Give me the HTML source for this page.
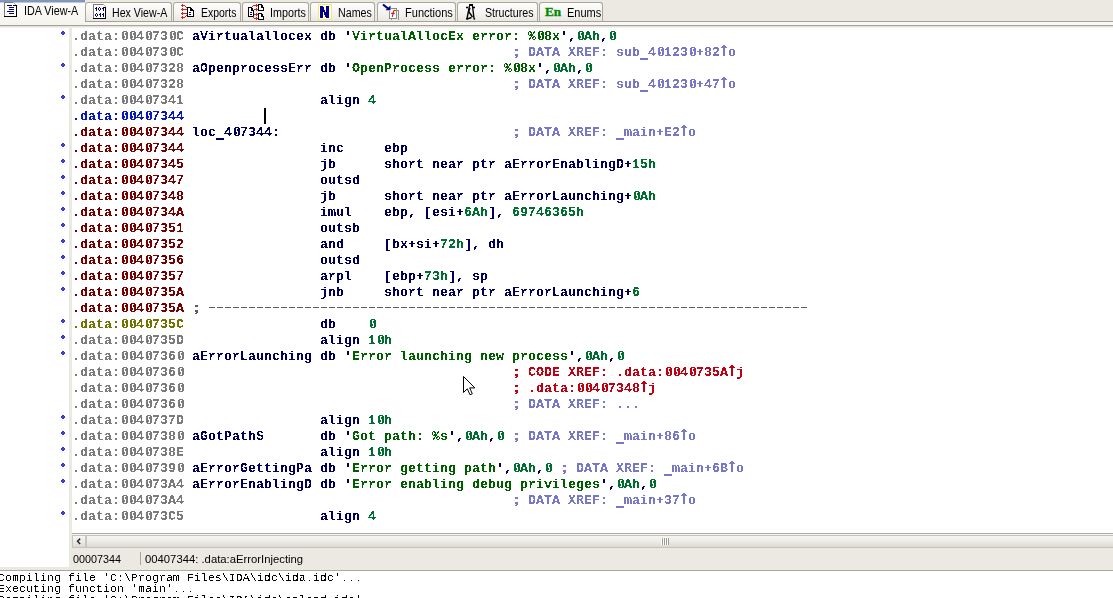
<!DOCTYPE html>
<html><head><meta charset="utf-8">
<style>
html,body{margin:0;padding:0}
body{width:1113px;height:598px;overflow:hidden;background:#ece9e2;position:relative;font-family:"Liberation Sans",sans-serif}
.a{position:absolute}
/* tabs */
.tab{position:absolute;top:2px;height:19px;box-sizing:border-box;border:1px solid #aaa79f;border-bottom:none;border-radius:3px 3px 0 0;background:linear-gradient(#fdfdfc 0%,#f4f3ef 60%,#e9e7e0 100%)}
.tt{position:absolute;transform-origin:0 0;top:6px;font-size:12px;line-height:14px;color:#000;white-space:nowrap}
.act{position:absolute;left:0;top:0;width:85px;height:25px;background:linear-gradient(#fefefe 0%,#faf9f6 50%,#f4f3ee 100%)}
/* code */
#code{position:absolute;left:0;top:0;width:1113px;height:598px}
.ln{position:absolute;left:72px;height:16px;line-height:16px;font-family:"Liberation Mono",monospace;font-weight:bold;font-size:13.333px;white-space:pre;color:#00005a}
.bul{position:absolute;left:61px;width:4px;height:4px;background:radial-gradient(circle at 50% 50%,#4646ee 0,#4040e8 1px,#2a2acc 2px);clip-path:polygon(1px 0,3px 0,3px 1px,4px 1px,4px 3px,3px 3px,3px 4px,1px 4px,1px 3px,0 3px,0 1px,1px 1px)}
.ag{color:#7b7b7b}
.ar{color:#740000}
.ab{color:#0818c0}
.ao{color:#727200}
.n{color:#00005a}
.s{color:#005e00}
.k{color:#006e30}
.c{color:#7878c8}
.x{color:#c00010}
.sep{color:#5a5a5a}
.up{display:inline-block;vertical-align:top}
.out{position:absolute;left:-2px;font-family:"Liberation Mono",monospace;font-size:11.667px;line-height:11px;white-space:pre;color:#000}
.fx{position:absolute;left:0;top:0;width:1113px;height:598px;filter:url(#crisp)}
.fg{position:absolute;left:0;top:0;width:1113px;height:598px;filter:url(#gray)}
</style></head><body>
<svg width="0" height="0" style="position:absolute"><filter id="crisp" x="0" y="0" width="100%" height="100%" color-interpolation-filters="sRGB"><feComponentTransfer><feFuncA type="discrete" tableValues="0 1"/></feComponentTransfer></filter><filter id="gray" x="0" y="0" width="100%" height="100%"><feComponentTransfer><feFuncA type="identity"/></feComponentTransfer></filter></svg>
<!-- tab bar -->
<div class="a" style="left:0;top:21px;width:1113px;height:1px;background:#a5a29a"></div>
<div class="a" style="left:0;top:22px;width:1113px;height:3px;background:#f8f7f3"></div>
<div class="a" style="left:0;top:25px;width:1113px;height:1px;background:#a5a29a"></div>

<div class="act"></div>
<div class="a" style="left:0;top:0;width:85px;height:2px;background:#8497b8"></div>
<div class="a" style="left:0;top:2px;width:85px;height:1px;background:#bccae0"></div>
<div class="fg">
<div class="tt" style="left:24px;top:4px;transform:scaleX(0.898)">IDA View-A</div>
</div>

<div class="tab" style="left:85px;width:87px"></div>
<div class="tab" style="left:173px;width:68px"></div>
<div class="tab" style="left:242px;width:67px"></div>
<div class="tab" style="left:310px;width:65px"></div>
<div class="tab" style="left:377px;width:79px"></div>
<div class="tab" style="left:457px;width:81px"></div>
<div class="tab" style="left:539px;width:64px"></div>
<div class="fg">
<div class="tt" style="left:112px;top:6px;transform:scaleX(0.885)">Hex View-A</div>
<div class="tt" style="left:201px;top:6px;transform:scaleX(0.872)">Exports</div>
<div class="tt" style="left:269.5px;top:6px;transform:scaleX(0.895)">Imports</div>
<div class="tt" style="left:338px;top:6px;transform:scaleX(0.889)">Names</div>
<div class="tt" style="left:404.5px;top:6px;transform:scaleX(0.920)">Functions</div>
<div class="tt" style="left:485px;top:6px;transform:scaleX(0.887)">Structures</div>
<div class="tt" style="left:566.5px;top:6px;transform:scaleX(0.917)">Enums</div>
</div>

<svg class="a" style="left:0;top:0" width="620" height="24" viewBox="0 0 620 24">
<g shape-rendering="crispEdges">
<!-- icon1 IDA view -->
<rect x="5" y="3" width="11" height="13" fill="#fff"/>
<rect x="4" y="2" width="1" height="15" fill="#7c7c7c"/>
<rect x="4" y="2" width="9" height="1" fill="#7c7c7c"/>
<rect x="13" y="2" width="1" height="1" fill="#b0b0b0"/><rect x="14" y="3" width="1" height="1" fill="#b0b0b0"/><rect x="15" y="4" width="1" height="1" fill="#b0b0b0"/>
<rect x="13" y="5" width="4" height="1" fill="#000"/>
<rect x="16" y="5" width="1" height="12" fill="#000"/>
<rect x="4" y="16" width="13" height="1" fill="#000"/>
<g fill="#000078">
<rect x="7" y="5" width="5" height="1"/><rect x="9" y="7" width="5" height="1"/><rect x="9" y="9" width="5" height="1"/><rect x="7" y="11" width="7" height="1"/><rect x="9" y="13" width="5" height="1"/>
</g>
<!-- icon2 hex -->
<rect x="94" y="5" width="11" height="13" fill="#fff"/>
<rect x="93" y="4" width="1" height="15" fill="#7c7c7c"/>
<rect x="93" y="4" width="10" height="1" fill="#7c7c7c"/>
<rect x="103" y="4" width="1" height="1" fill="#b0b0b0"/><rect x="104" y="5" width="1" height="1" fill="#b0b0b0"/><rect x="105" y="6" width="1" height="1" fill="#b0b0b0"/>
<rect x="104" y="7" width="2" height="1" fill="#000"/>
<rect x="105" y="7" width="1" height="12" fill="#000"/>
<rect x="93" y="18" width="13" height="1" fill="#000"/>
<g fill="#00006e">
<rect x="96" y="7" width="1" height="4"/><rect x="95" y="8" width="1" height="1"/>
<rect x="99" y="7" width="1" height="1"/><rect x="98" y="8" width="1" height="2"/><rect x="100" y="8" width="1" height="2"/><rect x="99" y="10" width="1" height="1"/>
<rect x="103" y="7" width="1" height="4"/><rect x="102" y="8" width="1" height="1"/>
<rect x="96" y="13" width="1" height="1"/><rect x="95" y="14" width="1" height="2"/><rect x="97" y="14" width="1" height="2"/><rect x="96" y="16" width="1" height="1"/>
<rect x="100" y="13" width="1" height="4"/><rect x="99" y="14" width="1" height="1"/>
<rect x="103" y="13" width="1" height="4"/><rect x="102" y="14" width="1" height="1"/>
</g>
<!-- icon3 exports -->
<path d="M187 7h3v1h-3zM187 7h1v10h-1zM187 16h7v1h-7zM193 10h1v7h-1zM190 7h1v3h-1zM191 9h1v1h-1zM190 10h3v1h-3zM191 8h1v1h-1zM192 9h1v1h-1z" fill="#000"/>
<rect x="188" y="8" width="2" height="8" fill="#fff"/><rect x="190" y="11" width="3" height="5" fill="#fff"/>
<rect x="189" y="12" width="2" height="1" fill="#00006e"/><rect x="189" y="14" width="2" height="1" fill="#00006e"/>
<g fill="#c42a2a">
<rect x="181" y="5" width="4" height="1"/><rect x="182" y="4" width="1" height="3"/>
<rect x="181" y="9" width="6" height="1"/><rect x="182" y="8" width="1" height="3"/>
<rect x="181" y="13" width="6" height="1"/><rect x="182" y="12" width="1" height="3"/>
<rect x="181" y="17" width="4" height="1"/><rect x="182" y="16" width="1" height="3"/>
<rect x="185" y="6" width="1" height="1"/><rect x="186" y="7" width="1" height="1"/>
<rect x="185" y="16" width="1" height="1"/><rect x="186" y="15" width="1" height="1"/>
</g>
<!-- icon4 imports -->
<path d="M248 7h3v1h-3zM248 7h1v10h-1zM248 16h6v1h-6zM253 10h1v7h-1zM251 7h1v3h-1zM252 9h1v1h-1zM251 10h2v1h-2zM252 8h1v1h-1z" fill="#000"/>
<rect x="249" y="8" width="2" height="8" fill="#fff"/><rect x="251" y="11" width="2" height="5" fill="#fff"/>
<rect x="250" y="12" width="2" height="1" fill="#00006e"/><rect x="250" y="14" width="2" height="1" fill="#00006e"/>
<path d="M258 4h3v1h-3zM258 4h1v7h-1zM258 10h6v1h-6zM263 7h1v4h-1zM261 4h1v3h-1zM262 6h1v1h-1zM261 7h2v1h-2zM262 5h1v1h-1z" fill="#000"/>
<rect x="259" y="5" width="2" height="5" fill="#fff"/><rect x="261" y="8" width="2" height="2" fill="#fff"/>
<path d="M258 13h3v1h-3zM258 13h1v7h-1zM258 19h6v1h-6zM263 16h1v4h-1zM261 13h1v3h-1zM262 15h1v1h-1zM261 16h2v1h-2zM262 14h1v1h-1z" fill="#000"/>
<rect x="259" y="14" width="2" height="5" fill="#fff"/><rect x="261" y="17" width="2" height="2" fill="#fff"/>
<g fill="#c42a2a">
<rect x="253" y="5" width="5" height="1"/><rect x="256" y="4" width="1" height="3"/>
<rect x="254" y="9" width="4" height="1"/><rect x="256" y="8" width="1" height="3"/>
<rect x="254" y="14" width="4" height="1"/><rect x="256" y="13" width="1" height="3"/>
<rect x="254" y="18" width="4" height="1"/><rect x="256" y="17" width="1" height="3"/>
<rect x="252" y="6" width="1" height="1"/><rect x="253" y="16" width="1" height="1"/><rect x="253" y="17" width="1" height="1"/>
</g>
<!-- icon5 names -->
<rect x="318" y="4" width="14" height="16" fill="#f4ec70"/>
<rect x="319" y="5" width="12" height="14" fill="#fdfde8"/>
<path d="M320 6h3l3 7v-7h3v12h-3l-3-7v7h-3z" fill="#00008c"/>
<!-- icon6 functions -->
<g fill="#8c8c8c">
<rect x="391" y="8" width="6" height="1"/><rect x="396" y="8" width="1" height="11"/>
<rect x="397" y="10" width="2" height="1"/><rect x="398" y="10" width="1" height="10"/>
<rect x="389" y="11" width="1" height="8"/><rect x="389" y="18" width="8" height="1"/><rect x="391" y="19" width="1" height="1"/>
</g>
<rect x="390" y="11" width="6" height="7" fill="#fff"/><rect x="391" y="9" width="5" height="2" fill="#fff"/>
</g>
<path d="M395.6 10.9C395.1 9.9 394 10 393.7 11.2L392.3 16.9M391.2 13.4H394.6" stroke="#d01818" stroke-width="1.1" fill="none"/>
<path d="M383 4.5l5 4" stroke="#00008c" stroke-width="2.2" fill="none"/>
<path d="M390.5 5.5v4.8h-5z" fill="#00008c"/>
<!-- icon7 structures -->
<g stroke="#000" stroke-width="1.35" fill="none">
<rect x="469" y="4" width="4" height="2" fill="#000" stroke="none"/>
<path d="M466 7.5h2M472.5 7.5h2.5"/>
<path d="M469.5 6l-2.5 12.5M472.5 6l1.5 12.5"/>
<path d="M470 8l-1.5 4.5M469 12l3.5 5M467 19c1.5-0.5 3-1 4.5-1.5"/>
</g>
<circle cx="466.8" cy="18.8" r="0.9" fill="#000"/><circle cx="474.3" cy="18.8" r="0.9" fill="#000"/>
<!-- icon8 En -->
<text x="545" y="16" font-family="Liberation Serif" font-weight="bold" font-size="13.2" fill="#008a00" stroke="#008a00" stroke-width="0.35">En</text>
</svg>

<!-- panels -->
<div class="a" style="left:0;top:28px;width:69px;height:539px;background:#fff"></div>
<div class="a" style="left:72px;top:28px;width:1041px;height:505px;background:#fff"></div>
<div class="a" style="left:0;top:26px;width:1113px;height:1px;background:#e4e2dc"></div>
<div class="a" style="left:0;top:27px;width:1113px;height:1px;background:#f2f1ed"></div>
<div class="a" style="left:72px;top:533px;width:1041px;height:1px;background:#aeaba3"></div>
<div class="a" style="left:72px;top:534px;width:1041px;height:1px;background:#f6f5f1"></div>
<!-- scrollbar -->
<div class="a" style="left:72px;top:535px;width:1041px;height:13px;box-sizing:border-box;border:1px solid #c5c2ba;border-right:none;background:linear-gradient(#f7f6f3,#edebe6 50%,#dcdad2)"></div>
<div class="a" style="left:85px;top:536px;width:2px;height:11px;background:#c9c6be"></div>
<svg class="a" style="left:72px;top:535px" width="14" height="13" viewBox="0 0 14 13"><path d="M7.6 4.2L5.6 6.3L7.6 8.4" stroke="#2e2e2e" stroke-width="1.6" fill="none" stroke-linecap="square"/></svg>
<svg class="a" style="left:660px;top:537px" width="12" height="9" viewBox="0 0 12 9" shape-rendering="crispEdges">
<rect x="1" y="1" width="1" height="7" fill="#fff"/><rect x="2" y="1" width="1" height="7" fill="#9c9a94"/>
<rect x="3" y="1" width="1" height="7" fill="#fff"/><rect x="4" y="1" width="1" height="7" fill="#9c9a94"/>
<rect x="5" y="1" width="1" height="7" fill="#fff"/><rect x="6" y="1" width="1" height="7" fill="#9c9a94"/>
<rect x="7" y="1" width="1" height="7" fill="#fff"/><rect x="8" y="1" width="1" height="7" fill="#9c9a94"/>
</svg>
<!-- status -->
<div class="fg">
<div class="tt" style="left:73px;top:553px;font-size:11px;line-height:13px;transform:scaleX(0.98)">00007344</div>
</div>
<div class="a" style="left:140px;top:552px;width:1px;height:13px;background:#aca899"></div>
<div class="fg">
<div class="tt" style="left:145px;top:553px;font-size:11px;line-height:13px;transform:scaleX(1.026)">00407344: .data:aErrorInjecting</div>
</div>
<!-- output -->
<div class="a" style="left:0;top:570px;width:1113px;height:1px;background:#aca9a1"></div>
<div class="a" style="left:0;top:571px;width:1113px;height:27px;background:#fff"></div>
<div class="fx">
<div class="out" style="top:573px">Compiling file 'C:\Program Files\IDA\idc\ida.idc'...</div>
<div class="out" style="top:584px">Executing function 'main'...</div>
<div class="out" style="top:595px">Compiling file 'C:\Program Files\IDA\idc\onload.idc'...</div>
</div>

<div id="code" class="fx">
<div class="a" style="left:209px;top:307px;width:598px;height:1px;background:repeating-linear-gradient(to right,#5c5c5c 0,#5c5c5c 6px,transparent 6px,transparent 8px)"></div>
<div class="ln" style="top:29px"><span class="ag">.data:<svg class="up" width="8" height="16" viewBox="0 0 8 16"><path d="M3 2h4v1h-4zM2 3h2v7h-2zM6 3h2v7h-2zM3 10h4v1h-4zM5 4h1v2h-1zM4 7h1v2h-1z" fill="currentColor"/></svg><svg class="up" width="8" height="16" viewBox="0 0 8 16"><path d="M3 2h4v1h-4zM2 3h2v7h-2zM6 3h2v7h-2zM3 10h4v1h-4zM5 4h1v2h-1zM4 7h1v2h-1z" fill="currentColor"/></svg>4<svg class="up" width="8" height="16" viewBox="0 0 8 16"><path d="M3 2h4v1h-4zM2 3h2v7h-2zM6 3h2v7h-2zM3 10h4v1h-4zM5 4h1v2h-1zM4 7h1v2h-1z" fill="currentColor"/></svg>73<svg class="up" width="8" height="16" viewBox="0 0 8 16"><path d="M3 2h4v1h-4zM2 3h2v7h-2zM6 3h2v7h-2zM3 10h4v1h-4zM5 4h1v2h-1zM4 7h1v2h-1z" fill="currentColor"/></svg>C</span><span class="n"> aVirtualallocex db </span><span class="n">&#x27;</span><span class="s">VirtualAllocEx error: %<svg class="up" width="8" height="16" viewBox="0 0 8 16"><path d="M3 2h4v1h-4zM2 3h2v7h-2zM6 3h2v7h-2zM3 10h4v1h-4zM5 4h1v2h-1zM4 7h1v2h-1z" fill="currentColor"/></svg>8x</span><span class="n">&#x27;,</span><span class="k"><svg class="up" width="8" height="16" viewBox="0 0 8 16"><path d="M3 2h4v1h-4zM2 3h2v7h-2zM6 3h2v7h-2zM3 10h4v1h-4zM5 4h1v2h-1zM4 7h1v2h-1z" fill="currentColor"/></svg>Ah</span><span class="n">,</span><span class="k"><svg class="up" width="8" height="16" viewBox="0 0 8 16"><path d="M3 2h4v1h-4zM2 3h2v7h-2zM6 3h2v7h-2zM3 10h4v1h-4zM5 4h1v2h-1zM4 7h1v2h-1z" fill="currentColor"/></svg></span></div><div class="bul" style="top:31px"></div>
<div class="ln" style="top:45px"><span class="ag">.data:<svg class="up" width="8" height="16" viewBox="0 0 8 16"><path d="M3 2h4v1h-4zM2 3h2v7h-2zM6 3h2v7h-2zM3 10h4v1h-4zM5 4h1v2h-1zM4 7h1v2h-1z" fill="currentColor"/></svg><svg class="up" width="8" height="16" viewBox="0 0 8 16"><path d="M3 2h4v1h-4zM2 3h2v7h-2zM6 3h2v7h-2zM3 10h4v1h-4zM5 4h1v2h-1zM4 7h1v2h-1z" fill="currentColor"/></svg>4<svg class="up" width="8" height="16" viewBox="0 0 8 16"><path d="M3 2h4v1h-4zM2 3h2v7h-2zM6 3h2v7h-2zM3 10h4v1h-4zM5 4h1v2h-1zM4 7h1v2h-1z" fill="currentColor"/></svg>73<svg class="up" width="8" height="16" viewBox="0 0 8 16"><path d="M3 2h4v1h-4zM2 3h2v7h-2zM6 3h2v7h-2zM3 10h4v1h-4zM5 4h1v2h-1zM4 7h1v2h-1z" fill="currentColor"/></svg>C</span><span class="n">                                         </span><span class="c"><svg class="up" width="8" height="16" viewBox="0 0 8 16"><path d="M3 4h3v2h-3zM3 9h3v2h-3zM4 11h2v1h-2zM3 12h2v1h-2z" fill="currentColor"/></svg> DATA XREF: sub<svg class="up" width="8" height="16" viewBox="0 0 8 16"><rect x="0" y="13" width="8" height="2" fill="currentColor"/></svg>4<svg class="up" width="8" height="16" viewBox="0 0 8 16"><path d="M3 2h4v1h-4zM2 3h2v7h-2zM6 3h2v7h-2zM3 10h4v1h-4zM5 4h1v2h-1zM4 7h1v2h-1z" fill="currentColor"/></svg>123<svg class="up" width="8" height="16" viewBox="0 0 8 16"><path d="M3 2h4v1h-4zM2 3h2v7h-2zM6 3h2v7h-2zM3 10h4v1h-4zM5 4h1v2h-1zM4 7h1v2h-1z" fill="currentColor"/></svg>+82<svg class="up" width="8" height="16" viewBox="0 0 8 16"><path d="M3 0h2v1h1v1h1v1h-2v8h-2v-8h-2v-1h1v-1h1z" fill="currentColor" shape-rendering="crispEdges"/></svg>o</span></div>
<div class="ln" style="top:61px"><span class="ag">.data:<svg class="up" width="8" height="16" viewBox="0 0 8 16"><path d="M3 2h4v1h-4zM2 3h2v7h-2zM6 3h2v7h-2zM3 10h4v1h-4zM5 4h1v2h-1zM4 7h1v2h-1z" fill="currentColor"/></svg><svg class="up" width="8" height="16" viewBox="0 0 8 16"><path d="M3 2h4v1h-4zM2 3h2v7h-2zM6 3h2v7h-2zM3 10h4v1h-4zM5 4h1v2h-1zM4 7h1v2h-1z" fill="currentColor"/></svg>4<svg class="up" width="8" height="16" viewBox="0 0 8 16"><path d="M3 2h4v1h-4zM2 3h2v7h-2zM6 3h2v7h-2zM3 10h4v1h-4zM5 4h1v2h-1zM4 7h1v2h-1z" fill="currentColor"/></svg>7328</span><span class="n"> aOpenprocessErr db </span><span class="n">&#x27;</span><span class="s">OpenProcess error: %<svg class="up" width="8" height="16" viewBox="0 0 8 16"><path d="M3 2h4v1h-4zM2 3h2v7h-2zM6 3h2v7h-2zM3 10h4v1h-4zM5 4h1v2h-1zM4 7h1v2h-1z" fill="currentColor"/></svg>8x</span><span class="n">&#x27;,</span><span class="k"><svg class="up" width="8" height="16" viewBox="0 0 8 16"><path d="M3 2h4v1h-4zM2 3h2v7h-2zM6 3h2v7h-2zM3 10h4v1h-4zM5 4h1v2h-1zM4 7h1v2h-1z" fill="currentColor"/></svg>Ah</span><span class="n">,</span><span class="k"><svg class="up" width="8" height="16" viewBox="0 0 8 16"><path d="M3 2h4v1h-4zM2 3h2v7h-2zM6 3h2v7h-2zM3 10h4v1h-4zM5 4h1v2h-1zM4 7h1v2h-1z" fill="currentColor"/></svg></span></div><div class="bul" style="top:63px"></div>
<div class="ln" style="top:77px"><span class="ag">.data:<svg class="up" width="8" height="16" viewBox="0 0 8 16"><path d="M3 2h4v1h-4zM2 3h2v7h-2zM6 3h2v7h-2zM3 10h4v1h-4zM5 4h1v2h-1zM4 7h1v2h-1z" fill="currentColor"/></svg><svg class="up" width="8" height="16" viewBox="0 0 8 16"><path d="M3 2h4v1h-4zM2 3h2v7h-2zM6 3h2v7h-2zM3 10h4v1h-4zM5 4h1v2h-1zM4 7h1v2h-1z" fill="currentColor"/></svg>4<svg class="up" width="8" height="16" viewBox="0 0 8 16"><path d="M3 2h4v1h-4zM2 3h2v7h-2zM6 3h2v7h-2zM3 10h4v1h-4zM5 4h1v2h-1zM4 7h1v2h-1z" fill="currentColor"/></svg>7328</span><span class="n">                                         </span><span class="c"><svg class="up" width="8" height="16" viewBox="0 0 8 16"><path d="M3 4h3v2h-3zM3 9h3v2h-3zM4 11h2v1h-2zM3 12h2v1h-2z" fill="currentColor"/></svg> DATA XREF: sub<svg class="up" width="8" height="16" viewBox="0 0 8 16"><rect x="0" y="13" width="8" height="2" fill="currentColor"/></svg>4<svg class="up" width="8" height="16" viewBox="0 0 8 16"><path d="M3 2h4v1h-4zM2 3h2v7h-2zM6 3h2v7h-2zM3 10h4v1h-4zM5 4h1v2h-1zM4 7h1v2h-1z" fill="currentColor"/></svg>123<svg class="up" width="8" height="16" viewBox="0 0 8 16"><path d="M3 2h4v1h-4zM2 3h2v7h-2zM6 3h2v7h-2zM3 10h4v1h-4zM5 4h1v2h-1zM4 7h1v2h-1z" fill="currentColor"/></svg>+47<svg class="up" width="8" height="16" viewBox="0 0 8 16"><path d="M3 0h2v1h1v1h1v1h-2v8h-2v-8h-2v-1h1v-1h1z" fill="currentColor" shape-rendering="crispEdges"/></svg>o</span></div>
<div class="ln" style="top:93px"><span class="ag">.data:<svg class="up" width="8" height="16" viewBox="0 0 8 16"><path d="M3 2h4v1h-4zM2 3h2v7h-2zM6 3h2v7h-2zM3 10h4v1h-4zM5 4h1v2h-1zM4 7h1v2h-1z" fill="currentColor"/></svg><svg class="up" width="8" height="16" viewBox="0 0 8 16"><path d="M3 2h4v1h-4zM2 3h2v7h-2zM6 3h2v7h-2zM3 10h4v1h-4zM5 4h1v2h-1zM4 7h1v2h-1z" fill="currentColor"/></svg>4<svg class="up" width="8" height="16" viewBox="0 0 8 16"><path d="M3 2h4v1h-4zM2 3h2v7h-2zM6 3h2v7h-2zM3 10h4v1h-4zM5 4h1v2h-1zM4 7h1v2h-1z" fill="currentColor"/></svg>7341</span><span class="n">                 align </span><span class="k">4</span></div><div class="bul" style="top:95px"></div>
<div class="ln" style="top:109px"><span class="ab">.data:<svg class="up" width="8" height="16" viewBox="0 0 8 16"><path d="M3 2h4v1h-4zM2 3h2v7h-2zM6 3h2v7h-2zM3 10h4v1h-4zM5 4h1v2h-1zM4 7h1v2h-1z" fill="currentColor"/></svg><svg class="up" width="8" height="16" viewBox="0 0 8 16"><path d="M3 2h4v1h-4zM2 3h2v7h-2zM6 3h2v7h-2zM3 10h4v1h-4zM5 4h1v2h-1zM4 7h1v2h-1z" fill="currentColor"/></svg>4<svg class="up" width="8" height="16" viewBox="0 0 8 16"><path d="M3 2h4v1h-4zM2 3h2v7h-2zM6 3h2v7h-2zM3 10h4v1h-4zM5 4h1v2h-1zM4 7h1v2h-1z" fill="currentColor"/></svg>7344</span></div>
<div class="ln" style="top:125px"><span class="ar">.data:<svg class="up" width="8" height="16" viewBox="0 0 8 16"><path d="M3 2h4v1h-4zM2 3h2v7h-2zM6 3h2v7h-2zM3 10h4v1h-4zM5 4h1v2h-1zM4 7h1v2h-1z" fill="currentColor"/></svg><svg class="up" width="8" height="16" viewBox="0 0 8 16"><path d="M3 2h4v1h-4zM2 3h2v7h-2zM6 3h2v7h-2zM3 10h4v1h-4zM5 4h1v2h-1zM4 7h1v2h-1z" fill="currentColor"/></svg>4<svg class="up" width="8" height="16" viewBox="0 0 8 16"><path d="M3 2h4v1h-4zM2 3h2v7h-2zM6 3h2v7h-2zM3 10h4v1h-4zM5 4h1v2h-1zM4 7h1v2h-1z" fill="currentColor"/></svg>7344</span><span class="n"> loc<svg class="up" width="8" height="16" viewBox="0 0 8 16"><rect x="0" y="13" width="8" height="2" fill="currentColor"/></svg>4<svg class="up" width="8" height="16" viewBox="0 0 8 16"><path d="M3 2h4v1h-4zM2 3h2v7h-2zM6 3h2v7h-2zM3 10h4v1h-4zM5 4h1v2h-1zM4 7h1v2h-1z" fill="currentColor"/></svg>7344:                             </span><span class="c"><svg class="up" width="8" height="16" viewBox="0 0 8 16"><path d="M3 4h3v2h-3zM3 9h3v2h-3zM4 11h2v1h-2zM3 12h2v1h-2z" fill="currentColor"/></svg> DATA XREF: <svg class="up" width="8" height="16" viewBox="0 0 8 16"><rect x="0" y="13" width="8" height="2" fill="currentColor"/></svg>main+E2<svg class="up" width="8" height="16" viewBox="0 0 8 16"><path d="M3 0h2v1h1v1h1v1h-2v8h-2v-8h-2v-1h1v-1h1z" fill="currentColor" shape-rendering="crispEdges"/></svg>o</span></div>
<div class="ln" style="top:141px"><span class="ar">.data:<svg class="up" width="8" height="16" viewBox="0 0 8 16"><path d="M3 2h4v1h-4zM2 3h2v7h-2zM6 3h2v7h-2zM3 10h4v1h-4zM5 4h1v2h-1zM4 7h1v2h-1z" fill="currentColor"/></svg><svg class="up" width="8" height="16" viewBox="0 0 8 16"><path d="M3 2h4v1h-4zM2 3h2v7h-2zM6 3h2v7h-2zM3 10h4v1h-4zM5 4h1v2h-1zM4 7h1v2h-1z" fill="currentColor"/></svg>4<svg class="up" width="8" height="16" viewBox="0 0 8 16"><path d="M3 2h4v1h-4zM2 3h2v7h-2zM6 3h2v7h-2zM3 10h4v1h-4zM5 4h1v2h-1zM4 7h1v2h-1z" fill="currentColor"/></svg>7344</span><span class="n">                 inc     </span><span class="n">ebp</span></div><div class="bul" style="top:143px"></div>
<div class="ln" style="top:157px"><span class="ar">.data:<svg class="up" width="8" height="16" viewBox="0 0 8 16"><path d="M3 2h4v1h-4zM2 3h2v7h-2zM6 3h2v7h-2zM3 10h4v1h-4zM5 4h1v2h-1zM4 7h1v2h-1z" fill="currentColor"/></svg><svg class="up" width="8" height="16" viewBox="0 0 8 16"><path d="M3 2h4v1h-4zM2 3h2v7h-2zM6 3h2v7h-2zM3 10h4v1h-4zM5 4h1v2h-1zM4 7h1v2h-1z" fill="currentColor"/></svg>4<svg class="up" width="8" height="16" viewBox="0 0 8 16"><path d="M3 2h4v1h-4zM2 3h2v7h-2zM6 3h2v7h-2zM3 10h4v1h-4zM5 4h1v2h-1zM4 7h1v2h-1z" fill="currentColor"/></svg>7345</span><span class="n">                 jb      </span><span class="n">short near ptr aErrorEnablingD+</span><span class="k">15h</span></div><div class="bul" style="top:159px"></div>
<div class="ln" style="top:173px"><span class="ar">.data:<svg class="up" width="8" height="16" viewBox="0 0 8 16"><path d="M3 2h4v1h-4zM2 3h2v7h-2zM6 3h2v7h-2zM3 10h4v1h-4zM5 4h1v2h-1zM4 7h1v2h-1z" fill="currentColor"/></svg><svg class="up" width="8" height="16" viewBox="0 0 8 16"><path d="M3 2h4v1h-4zM2 3h2v7h-2zM6 3h2v7h-2zM3 10h4v1h-4zM5 4h1v2h-1zM4 7h1v2h-1z" fill="currentColor"/></svg>4<svg class="up" width="8" height="16" viewBox="0 0 8 16"><path d="M3 2h4v1h-4zM2 3h2v7h-2zM6 3h2v7h-2zM3 10h4v1h-4zM5 4h1v2h-1zM4 7h1v2h-1z" fill="currentColor"/></svg>7347</span><span class="n">                 outsd   </span></div><div class="bul" style="top:175px"></div>
<div class="ln" style="top:189px"><span class="ar">.data:<svg class="up" width="8" height="16" viewBox="0 0 8 16"><path d="M3 2h4v1h-4zM2 3h2v7h-2zM6 3h2v7h-2zM3 10h4v1h-4zM5 4h1v2h-1zM4 7h1v2h-1z" fill="currentColor"/></svg><svg class="up" width="8" height="16" viewBox="0 0 8 16"><path d="M3 2h4v1h-4zM2 3h2v7h-2zM6 3h2v7h-2zM3 10h4v1h-4zM5 4h1v2h-1zM4 7h1v2h-1z" fill="currentColor"/></svg>4<svg class="up" width="8" height="16" viewBox="0 0 8 16"><path d="M3 2h4v1h-4zM2 3h2v7h-2zM6 3h2v7h-2zM3 10h4v1h-4zM5 4h1v2h-1zM4 7h1v2h-1z" fill="currentColor"/></svg>7348</span><span class="n">                 jb      </span><span class="n">short near ptr aErrorLaunching+</span><span class="k"><svg class="up" width="8" height="16" viewBox="0 0 8 16"><path d="M3 2h4v1h-4zM2 3h2v7h-2zM6 3h2v7h-2zM3 10h4v1h-4zM5 4h1v2h-1zM4 7h1v2h-1z" fill="currentColor"/></svg>Ah</span></div><div class="bul" style="top:191px"></div>
<div class="ln" style="top:205px"><span class="ar">.data:<svg class="up" width="8" height="16" viewBox="0 0 8 16"><path d="M3 2h4v1h-4zM2 3h2v7h-2zM6 3h2v7h-2zM3 10h4v1h-4zM5 4h1v2h-1zM4 7h1v2h-1z" fill="currentColor"/></svg><svg class="up" width="8" height="16" viewBox="0 0 8 16"><path d="M3 2h4v1h-4zM2 3h2v7h-2zM6 3h2v7h-2zM3 10h4v1h-4zM5 4h1v2h-1zM4 7h1v2h-1z" fill="currentColor"/></svg>4<svg class="up" width="8" height="16" viewBox="0 0 8 16"><path d="M3 2h4v1h-4zM2 3h2v7h-2zM6 3h2v7h-2zM3 10h4v1h-4zM5 4h1v2h-1zM4 7h1v2h-1z" fill="currentColor"/></svg>734A</span><span class="n">                 imul    </span><span class="n">ebp, [esi+</span><span class="k">6Ah</span><span class="n">], </span><span class="k">69746365h</span></div><div class="bul" style="top:207px"></div>
<div class="ln" style="top:221px"><span class="ar">.data:<svg class="up" width="8" height="16" viewBox="0 0 8 16"><path d="M3 2h4v1h-4zM2 3h2v7h-2zM6 3h2v7h-2zM3 10h4v1h-4zM5 4h1v2h-1zM4 7h1v2h-1z" fill="currentColor"/></svg><svg class="up" width="8" height="16" viewBox="0 0 8 16"><path d="M3 2h4v1h-4zM2 3h2v7h-2zM6 3h2v7h-2zM3 10h4v1h-4zM5 4h1v2h-1zM4 7h1v2h-1z" fill="currentColor"/></svg>4<svg class="up" width="8" height="16" viewBox="0 0 8 16"><path d="M3 2h4v1h-4zM2 3h2v7h-2zM6 3h2v7h-2zM3 10h4v1h-4zM5 4h1v2h-1zM4 7h1v2h-1z" fill="currentColor"/></svg>7351</span><span class="n">                 outsb   </span></div><div class="bul" style="top:223px"></div>
<div class="ln" style="top:237px"><span class="ar">.data:<svg class="up" width="8" height="16" viewBox="0 0 8 16"><path d="M3 2h4v1h-4zM2 3h2v7h-2zM6 3h2v7h-2zM3 10h4v1h-4zM5 4h1v2h-1zM4 7h1v2h-1z" fill="currentColor"/></svg><svg class="up" width="8" height="16" viewBox="0 0 8 16"><path d="M3 2h4v1h-4zM2 3h2v7h-2zM6 3h2v7h-2zM3 10h4v1h-4zM5 4h1v2h-1zM4 7h1v2h-1z" fill="currentColor"/></svg>4<svg class="up" width="8" height="16" viewBox="0 0 8 16"><path d="M3 2h4v1h-4zM2 3h2v7h-2zM6 3h2v7h-2zM3 10h4v1h-4zM5 4h1v2h-1zM4 7h1v2h-1z" fill="currentColor"/></svg>7352</span><span class="n">                 and     </span><span class="n">[bx+si+</span><span class="k">72h</span><span class="n">], dh</span></div><div class="bul" style="top:239px"></div>
<div class="ln" style="top:253px"><span class="ar">.data:<svg class="up" width="8" height="16" viewBox="0 0 8 16"><path d="M3 2h4v1h-4zM2 3h2v7h-2zM6 3h2v7h-2zM3 10h4v1h-4zM5 4h1v2h-1zM4 7h1v2h-1z" fill="currentColor"/></svg><svg class="up" width="8" height="16" viewBox="0 0 8 16"><path d="M3 2h4v1h-4zM2 3h2v7h-2zM6 3h2v7h-2zM3 10h4v1h-4zM5 4h1v2h-1zM4 7h1v2h-1z" fill="currentColor"/></svg>4<svg class="up" width="8" height="16" viewBox="0 0 8 16"><path d="M3 2h4v1h-4zM2 3h2v7h-2zM6 3h2v7h-2zM3 10h4v1h-4zM5 4h1v2h-1zM4 7h1v2h-1z" fill="currentColor"/></svg>7356</span><span class="n">                 outsd   </span></div><div class="bul" style="top:255px"></div>
<div class="ln" style="top:269px"><span class="ar">.data:<svg class="up" width="8" height="16" viewBox="0 0 8 16"><path d="M3 2h4v1h-4zM2 3h2v7h-2zM6 3h2v7h-2zM3 10h4v1h-4zM5 4h1v2h-1zM4 7h1v2h-1z" fill="currentColor"/></svg><svg class="up" width="8" height="16" viewBox="0 0 8 16"><path d="M3 2h4v1h-4zM2 3h2v7h-2zM6 3h2v7h-2zM3 10h4v1h-4zM5 4h1v2h-1zM4 7h1v2h-1z" fill="currentColor"/></svg>4<svg class="up" width="8" height="16" viewBox="0 0 8 16"><path d="M3 2h4v1h-4zM2 3h2v7h-2zM6 3h2v7h-2zM3 10h4v1h-4zM5 4h1v2h-1zM4 7h1v2h-1z" fill="currentColor"/></svg>7357</span><span class="n">                 arpl    </span><span class="n">[ebp+</span><span class="k">73h</span><span class="n">], sp</span></div><div class="bul" style="top:271px"></div>
<div class="ln" style="top:285px"><span class="ar">.data:<svg class="up" width="8" height="16" viewBox="0 0 8 16"><path d="M3 2h4v1h-4zM2 3h2v7h-2zM6 3h2v7h-2zM3 10h4v1h-4zM5 4h1v2h-1zM4 7h1v2h-1z" fill="currentColor"/></svg><svg class="up" width="8" height="16" viewBox="0 0 8 16"><path d="M3 2h4v1h-4zM2 3h2v7h-2zM6 3h2v7h-2zM3 10h4v1h-4zM5 4h1v2h-1zM4 7h1v2h-1z" fill="currentColor"/></svg>4<svg class="up" width="8" height="16" viewBox="0 0 8 16"><path d="M3 2h4v1h-4zM2 3h2v7h-2zM6 3h2v7h-2zM3 10h4v1h-4zM5 4h1v2h-1zM4 7h1v2h-1z" fill="currentColor"/></svg>735A</span><span class="n">                 jnb     </span><span class="n">short near ptr aErrorLaunching+</span><span class="k">6</span></div><div class="bul" style="top:287px"></div>
<div class="ln" style="top:301px"><span class="ar">.data:<svg class="up" width="8" height="16" viewBox="0 0 8 16"><path d="M3 2h4v1h-4zM2 3h2v7h-2zM6 3h2v7h-2zM3 10h4v1h-4zM5 4h1v2h-1zM4 7h1v2h-1z" fill="currentColor"/></svg><svg class="up" width="8" height="16" viewBox="0 0 8 16"><path d="M3 2h4v1h-4zM2 3h2v7h-2zM6 3h2v7h-2zM3 10h4v1h-4zM5 4h1v2h-1zM4 7h1v2h-1z" fill="currentColor"/></svg>4<svg class="up" width="8" height="16" viewBox="0 0 8 16"><path d="M3 2h4v1h-4zM2 3h2v7h-2zM6 3h2v7h-2zM3 10h4v1h-4zM5 4h1v2h-1zM4 7h1v2h-1z" fill="currentColor"/></svg>735A</span><span class="n"> </span><span class="sep"><svg class="up" width="8" height="16" viewBox="0 0 8 16"><path d="M3 4h3v2h-3zM3 9h3v2h-3zM4 11h2v1h-2zM3 12h2v1h-2z" fill="currentColor"/></svg></span></div>
<div class="ln" style="top:317px"><span class="ao">.data:<svg class="up" width="8" height="16" viewBox="0 0 8 16"><path d="M3 2h4v1h-4zM2 3h2v7h-2zM6 3h2v7h-2zM3 10h4v1h-4zM5 4h1v2h-1zM4 7h1v2h-1z" fill="currentColor"/></svg><svg class="up" width="8" height="16" viewBox="0 0 8 16"><path d="M3 2h4v1h-4zM2 3h2v7h-2zM6 3h2v7h-2zM3 10h4v1h-4zM5 4h1v2h-1zM4 7h1v2h-1z" fill="currentColor"/></svg>4<svg class="up" width="8" height="16" viewBox="0 0 8 16"><path d="M3 2h4v1h-4zM2 3h2v7h-2zM6 3h2v7h-2zM3 10h4v1h-4zM5 4h1v2h-1zM4 7h1v2h-1z" fill="currentColor"/></svg>735C</span><span class="n">                 db    </span><span class="k"><svg class="up" width="8" height="16" viewBox="0 0 8 16"><path d="M3 2h4v1h-4zM2 3h2v7h-2zM6 3h2v7h-2zM3 10h4v1h-4zM5 4h1v2h-1zM4 7h1v2h-1z" fill="currentColor"/></svg></span></div><div class="bul" style="top:319px"></div>
<div class="ln" style="top:333px"><span class="ag">.data:<svg class="up" width="8" height="16" viewBox="0 0 8 16"><path d="M3 2h4v1h-4zM2 3h2v7h-2zM6 3h2v7h-2zM3 10h4v1h-4zM5 4h1v2h-1zM4 7h1v2h-1z" fill="currentColor"/></svg><svg class="up" width="8" height="16" viewBox="0 0 8 16"><path d="M3 2h4v1h-4zM2 3h2v7h-2zM6 3h2v7h-2zM3 10h4v1h-4zM5 4h1v2h-1zM4 7h1v2h-1z" fill="currentColor"/></svg>4<svg class="up" width="8" height="16" viewBox="0 0 8 16"><path d="M3 2h4v1h-4zM2 3h2v7h-2zM6 3h2v7h-2zM3 10h4v1h-4zM5 4h1v2h-1zM4 7h1v2h-1z" fill="currentColor"/></svg>735D</span><span class="n">                 align </span><span class="k">1<svg class="up" width="8" height="16" viewBox="0 0 8 16"><path d="M3 2h4v1h-4zM2 3h2v7h-2zM6 3h2v7h-2zM3 10h4v1h-4zM5 4h1v2h-1zM4 7h1v2h-1z" fill="currentColor"/></svg>h</span></div><div class="bul" style="top:335px"></div>
<div class="ln" style="top:349px"><span class="ag">.data:<svg class="up" width="8" height="16" viewBox="0 0 8 16"><path d="M3 2h4v1h-4zM2 3h2v7h-2zM6 3h2v7h-2zM3 10h4v1h-4zM5 4h1v2h-1zM4 7h1v2h-1z" fill="currentColor"/></svg><svg class="up" width="8" height="16" viewBox="0 0 8 16"><path d="M3 2h4v1h-4zM2 3h2v7h-2zM6 3h2v7h-2zM3 10h4v1h-4zM5 4h1v2h-1zM4 7h1v2h-1z" fill="currentColor"/></svg>4<svg class="up" width="8" height="16" viewBox="0 0 8 16"><path d="M3 2h4v1h-4zM2 3h2v7h-2zM6 3h2v7h-2zM3 10h4v1h-4zM5 4h1v2h-1zM4 7h1v2h-1z" fill="currentColor"/></svg>736<svg class="up" width="8" height="16" viewBox="0 0 8 16"><path d="M3 2h4v1h-4zM2 3h2v7h-2zM6 3h2v7h-2zM3 10h4v1h-4zM5 4h1v2h-1zM4 7h1v2h-1z" fill="currentColor"/></svg></span><span class="n"> aErrorLaunching db </span><span class="n">&#x27;</span><span class="s">Error launching new process</span><span class="n">&#x27;,</span><span class="k"><svg class="up" width="8" height="16" viewBox="0 0 8 16"><path d="M3 2h4v1h-4zM2 3h2v7h-2zM6 3h2v7h-2zM3 10h4v1h-4zM5 4h1v2h-1zM4 7h1v2h-1z" fill="currentColor"/></svg>Ah</span><span class="n">,</span><span class="k"><svg class="up" width="8" height="16" viewBox="0 0 8 16"><path d="M3 2h4v1h-4zM2 3h2v7h-2zM6 3h2v7h-2zM3 10h4v1h-4zM5 4h1v2h-1zM4 7h1v2h-1z" fill="currentColor"/></svg></span></div><div class="bul" style="top:351px"></div>
<div class="ln" style="top:365px"><span class="ag">.data:<svg class="up" width="8" height="16" viewBox="0 0 8 16"><path d="M3 2h4v1h-4zM2 3h2v7h-2zM6 3h2v7h-2zM3 10h4v1h-4zM5 4h1v2h-1zM4 7h1v2h-1z" fill="currentColor"/></svg><svg class="up" width="8" height="16" viewBox="0 0 8 16"><path d="M3 2h4v1h-4zM2 3h2v7h-2zM6 3h2v7h-2zM3 10h4v1h-4zM5 4h1v2h-1zM4 7h1v2h-1z" fill="currentColor"/></svg>4<svg class="up" width="8" height="16" viewBox="0 0 8 16"><path d="M3 2h4v1h-4zM2 3h2v7h-2zM6 3h2v7h-2zM3 10h4v1h-4zM5 4h1v2h-1zM4 7h1v2h-1z" fill="currentColor"/></svg>736<svg class="up" width="8" height="16" viewBox="0 0 8 16"><path d="M3 2h4v1h-4zM2 3h2v7h-2zM6 3h2v7h-2zM3 10h4v1h-4zM5 4h1v2h-1zM4 7h1v2h-1z" fill="currentColor"/></svg></span><span class="n">                                         </span><span class="x"><svg class="up" width="8" height="16" viewBox="0 0 8 16"><path d="M3 4h3v2h-3zM3 9h3v2h-3zM4 11h2v1h-2zM3 12h2v1h-2z" fill="currentColor"/></svg> CODE XREF: .data:<svg class="up" width="8" height="16" viewBox="0 0 8 16"><path d="M3 2h4v1h-4zM2 3h2v7h-2zM6 3h2v7h-2zM3 10h4v1h-4zM5 4h1v2h-1zM4 7h1v2h-1z" fill="currentColor"/></svg><svg class="up" width="8" height="16" viewBox="0 0 8 16"><path d="M3 2h4v1h-4zM2 3h2v7h-2zM6 3h2v7h-2zM3 10h4v1h-4zM5 4h1v2h-1zM4 7h1v2h-1z" fill="currentColor"/></svg>4<svg class="up" width="8" height="16" viewBox="0 0 8 16"><path d="M3 2h4v1h-4zM2 3h2v7h-2zM6 3h2v7h-2zM3 10h4v1h-4zM5 4h1v2h-1zM4 7h1v2h-1z" fill="currentColor"/></svg>735A<svg class="up" width="8" height="16" viewBox="0 0 8 16"><path d="M3 0h2v1h1v1h1v1h-2v8h-2v-8h-2v-1h1v-1h1z" fill="currentColor" shape-rendering="crispEdges"/></svg>j</span></div>
<div class="ln" style="top:381px"><span class="ag">.data:<svg class="up" width="8" height="16" viewBox="0 0 8 16"><path d="M3 2h4v1h-4zM2 3h2v7h-2zM6 3h2v7h-2zM3 10h4v1h-4zM5 4h1v2h-1zM4 7h1v2h-1z" fill="currentColor"/></svg><svg class="up" width="8" height="16" viewBox="0 0 8 16"><path d="M3 2h4v1h-4zM2 3h2v7h-2zM6 3h2v7h-2zM3 10h4v1h-4zM5 4h1v2h-1zM4 7h1v2h-1z" fill="currentColor"/></svg>4<svg class="up" width="8" height="16" viewBox="0 0 8 16"><path d="M3 2h4v1h-4zM2 3h2v7h-2zM6 3h2v7h-2zM3 10h4v1h-4zM5 4h1v2h-1zM4 7h1v2h-1z" fill="currentColor"/></svg>736<svg class="up" width="8" height="16" viewBox="0 0 8 16"><path d="M3 2h4v1h-4zM2 3h2v7h-2zM6 3h2v7h-2zM3 10h4v1h-4zM5 4h1v2h-1zM4 7h1v2h-1z" fill="currentColor"/></svg></span><span class="n">                                         </span><span class="x"><svg class="up" width="8" height="16" viewBox="0 0 8 16"><path d="M3 4h3v2h-3zM3 9h3v2h-3zM4 11h2v1h-2zM3 12h2v1h-2z" fill="currentColor"/></svg> .data:<svg class="up" width="8" height="16" viewBox="0 0 8 16"><path d="M3 2h4v1h-4zM2 3h2v7h-2zM6 3h2v7h-2zM3 10h4v1h-4zM5 4h1v2h-1zM4 7h1v2h-1z" fill="currentColor"/></svg><svg class="up" width="8" height="16" viewBox="0 0 8 16"><path d="M3 2h4v1h-4zM2 3h2v7h-2zM6 3h2v7h-2zM3 10h4v1h-4zM5 4h1v2h-1zM4 7h1v2h-1z" fill="currentColor"/></svg>4<svg class="up" width="8" height="16" viewBox="0 0 8 16"><path d="M3 2h4v1h-4zM2 3h2v7h-2zM6 3h2v7h-2zM3 10h4v1h-4zM5 4h1v2h-1zM4 7h1v2h-1z" fill="currentColor"/></svg>7348<svg class="up" width="8" height="16" viewBox="0 0 8 16"><path d="M3 0h2v1h1v1h1v1h-2v8h-2v-8h-2v-1h1v-1h1z" fill="currentColor" shape-rendering="crispEdges"/></svg>j</span></div>
<div class="ln" style="top:397px"><span class="ag">.data:<svg class="up" width="8" height="16" viewBox="0 0 8 16"><path d="M3 2h4v1h-4zM2 3h2v7h-2zM6 3h2v7h-2zM3 10h4v1h-4zM5 4h1v2h-1zM4 7h1v2h-1z" fill="currentColor"/></svg><svg class="up" width="8" height="16" viewBox="0 0 8 16"><path d="M3 2h4v1h-4zM2 3h2v7h-2zM6 3h2v7h-2zM3 10h4v1h-4zM5 4h1v2h-1zM4 7h1v2h-1z" fill="currentColor"/></svg>4<svg class="up" width="8" height="16" viewBox="0 0 8 16"><path d="M3 2h4v1h-4zM2 3h2v7h-2zM6 3h2v7h-2zM3 10h4v1h-4zM5 4h1v2h-1zM4 7h1v2h-1z" fill="currentColor"/></svg>736<svg class="up" width="8" height="16" viewBox="0 0 8 16"><path d="M3 2h4v1h-4zM2 3h2v7h-2zM6 3h2v7h-2zM3 10h4v1h-4zM5 4h1v2h-1zM4 7h1v2h-1z" fill="currentColor"/></svg></span><span class="n">                                         </span><span class="c"><svg class="up" width="8" height="16" viewBox="0 0 8 16"><path d="M3 4h3v2h-3zM3 9h3v2h-3zM4 11h2v1h-2zM3 12h2v1h-2z" fill="currentColor"/></svg> DATA XREF: ...</span></div>
<div class="ln" style="top:413px"><span class="ag">.data:<svg class="up" width="8" height="16" viewBox="0 0 8 16"><path d="M3 2h4v1h-4zM2 3h2v7h-2zM6 3h2v7h-2zM3 10h4v1h-4zM5 4h1v2h-1zM4 7h1v2h-1z" fill="currentColor"/></svg><svg class="up" width="8" height="16" viewBox="0 0 8 16"><path d="M3 2h4v1h-4zM2 3h2v7h-2zM6 3h2v7h-2zM3 10h4v1h-4zM5 4h1v2h-1zM4 7h1v2h-1z" fill="currentColor"/></svg>4<svg class="up" width="8" height="16" viewBox="0 0 8 16"><path d="M3 2h4v1h-4zM2 3h2v7h-2zM6 3h2v7h-2zM3 10h4v1h-4zM5 4h1v2h-1zM4 7h1v2h-1z" fill="currentColor"/></svg>737D</span><span class="n">                 align </span><span class="k">1<svg class="up" width="8" height="16" viewBox="0 0 8 16"><path d="M3 2h4v1h-4zM2 3h2v7h-2zM6 3h2v7h-2zM3 10h4v1h-4zM5 4h1v2h-1zM4 7h1v2h-1z" fill="currentColor"/></svg>h</span></div><div class="bul" style="top:415px"></div>
<div class="ln" style="top:429px"><span class="ag">.data:<svg class="up" width="8" height="16" viewBox="0 0 8 16"><path d="M3 2h4v1h-4zM2 3h2v7h-2zM6 3h2v7h-2zM3 10h4v1h-4zM5 4h1v2h-1zM4 7h1v2h-1z" fill="currentColor"/></svg><svg class="up" width="8" height="16" viewBox="0 0 8 16"><path d="M3 2h4v1h-4zM2 3h2v7h-2zM6 3h2v7h-2zM3 10h4v1h-4zM5 4h1v2h-1zM4 7h1v2h-1z" fill="currentColor"/></svg>4<svg class="up" width="8" height="16" viewBox="0 0 8 16"><path d="M3 2h4v1h-4zM2 3h2v7h-2zM6 3h2v7h-2zM3 10h4v1h-4zM5 4h1v2h-1zM4 7h1v2h-1z" fill="currentColor"/></svg>738<svg class="up" width="8" height="16" viewBox="0 0 8 16"><path d="M3 2h4v1h-4zM2 3h2v7h-2zM6 3h2v7h-2zM3 10h4v1h-4zM5 4h1v2h-1zM4 7h1v2h-1z" fill="currentColor"/></svg></span><span class="n"> aGotPathS       db </span><span class="n">&#x27;</span><span class="s">Got path: %s</span><span class="n">&#x27;,</span><span class="k"><svg class="up" width="8" height="16" viewBox="0 0 8 16"><path d="M3 2h4v1h-4zM2 3h2v7h-2zM6 3h2v7h-2zM3 10h4v1h-4zM5 4h1v2h-1zM4 7h1v2h-1z" fill="currentColor"/></svg>Ah</span><span class="n">,</span><span class="k"><svg class="up" width="8" height="16" viewBox="0 0 8 16"><path d="M3 2h4v1h-4zM2 3h2v7h-2zM6 3h2v7h-2zM3 10h4v1h-4zM5 4h1v2h-1zM4 7h1v2h-1z" fill="currentColor"/></svg></span><span class="n"> </span><span class="c"><svg class="up" width="8" height="16" viewBox="0 0 8 16"><path d="M3 4h3v2h-3zM3 9h3v2h-3zM4 11h2v1h-2zM3 12h2v1h-2z" fill="currentColor"/></svg> DATA XREF: <svg class="up" width="8" height="16" viewBox="0 0 8 16"><rect x="0" y="13" width="8" height="2" fill="currentColor"/></svg>main+86<svg class="up" width="8" height="16" viewBox="0 0 8 16"><path d="M3 0h2v1h1v1h1v1h-2v8h-2v-8h-2v-1h1v-1h1z" fill="currentColor" shape-rendering="crispEdges"/></svg>o</span></div><div class="bul" style="top:431px"></div>
<div class="ln" style="top:445px"><span class="ag">.data:<svg class="up" width="8" height="16" viewBox="0 0 8 16"><path d="M3 2h4v1h-4zM2 3h2v7h-2zM6 3h2v7h-2zM3 10h4v1h-4zM5 4h1v2h-1zM4 7h1v2h-1z" fill="currentColor"/></svg><svg class="up" width="8" height="16" viewBox="0 0 8 16"><path d="M3 2h4v1h-4zM2 3h2v7h-2zM6 3h2v7h-2zM3 10h4v1h-4zM5 4h1v2h-1zM4 7h1v2h-1z" fill="currentColor"/></svg>4<svg class="up" width="8" height="16" viewBox="0 0 8 16"><path d="M3 2h4v1h-4zM2 3h2v7h-2zM6 3h2v7h-2zM3 10h4v1h-4zM5 4h1v2h-1zM4 7h1v2h-1z" fill="currentColor"/></svg>738E</span><span class="n">                 align </span><span class="k">1<svg class="up" width="8" height="16" viewBox="0 0 8 16"><path d="M3 2h4v1h-4zM2 3h2v7h-2zM6 3h2v7h-2zM3 10h4v1h-4zM5 4h1v2h-1zM4 7h1v2h-1z" fill="currentColor"/></svg>h</span></div><div class="bul" style="top:447px"></div>
<div class="ln" style="top:461px"><span class="ag">.data:<svg class="up" width="8" height="16" viewBox="0 0 8 16"><path d="M3 2h4v1h-4zM2 3h2v7h-2zM6 3h2v7h-2zM3 10h4v1h-4zM5 4h1v2h-1zM4 7h1v2h-1z" fill="currentColor"/></svg><svg class="up" width="8" height="16" viewBox="0 0 8 16"><path d="M3 2h4v1h-4zM2 3h2v7h-2zM6 3h2v7h-2zM3 10h4v1h-4zM5 4h1v2h-1zM4 7h1v2h-1z" fill="currentColor"/></svg>4<svg class="up" width="8" height="16" viewBox="0 0 8 16"><path d="M3 2h4v1h-4zM2 3h2v7h-2zM6 3h2v7h-2zM3 10h4v1h-4zM5 4h1v2h-1zM4 7h1v2h-1z" fill="currentColor"/></svg>739<svg class="up" width="8" height="16" viewBox="0 0 8 16"><path d="M3 2h4v1h-4zM2 3h2v7h-2zM6 3h2v7h-2zM3 10h4v1h-4zM5 4h1v2h-1zM4 7h1v2h-1z" fill="currentColor"/></svg></span><span class="n"> aErrorGettingPa db </span><span class="n">&#x27;</span><span class="s">Error getting path</span><span class="n">&#x27;,</span><span class="k"><svg class="up" width="8" height="16" viewBox="0 0 8 16"><path d="M3 2h4v1h-4zM2 3h2v7h-2zM6 3h2v7h-2zM3 10h4v1h-4zM5 4h1v2h-1zM4 7h1v2h-1z" fill="currentColor"/></svg>Ah</span><span class="n">,</span><span class="k"><svg class="up" width="8" height="16" viewBox="0 0 8 16"><path d="M3 2h4v1h-4zM2 3h2v7h-2zM6 3h2v7h-2zM3 10h4v1h-4zM5 4h1v2h-1zM4 7h1v2h-1z" fill="currentColor"/></svg></span><span class="n"> </span><span class="c"><svg class="up" width="8" height="16" viewBox="0 0 8 16"><path d="M3 4h3v2h-3zM3 9h3v2h-3zM4 11h2v1h-2zM3 12h2v1h-2z" fill="currentColor"/></svg> DATA XREF: <svg class="up" width="8" height="16" viewBox="0 0 8 16"><rect x="0" y="13" width="8" height="2" fill="currentColor"/></svg>main+6B<svg class="up" width="8" height="16" viewBox="0 0 8 16"><path d="M3 0h2v1h1v1h1v1h-2v8h-2v-8h-2v-1h1v-1h1z" fill="currentColor" shape-rendering="crispEdges"/></svg>o</span></div><div class="bul" style="top:463px"></div>
<div class="ln" style="top:477px"><span class="ag">.data:<svg class="up" width="8" height="16" viewBox="0 0 8 16"><path d="M3 2h4v1h-4zM2 3h2v7h-2zM6 3h2v7h-2zM3 10h4v1h-4zM5 4h1v2h-1zM4 7h1v2h-1z" fill="currentColor"/></svg><svg class="up" width="8" height="16" viewBox="0 0 8 16"><path d="M3 2h4v1h-4zM2 3h2v7h-2zM6 3h2v7h-2zM3 10h4v1h-4zM5 4h1v2h-1zM4 7h1v2h-1z" fill="currentColor"/></svg>4<svg class="up" width="8" height="16" viewBox="0 0 8 16"><path d="M3 2h4v1h-4zM2 3h2v7h-2zM6 3h2v7h-2zM3 10h4v1h-4zM5 4h1v2h-1zM4 7h1v2h-1z" fill="currentColor"/></svg>73A4</span><span class="n"> aErrorEnablingD db </span><span class="n">&#x27;</span><span class="s">Error enabling debug privileges</span><span class="n">&#x27;,</span><span class="k"><svg class="up" width="8" height="16" viewBox="0 0 8 16"><path d="M3 2h4v1h-4zM2 3h2v7h-2zM6 3h2v7h-2zM3 10h4v1h-4zM5 4h1v2h-1zM4 7h1v2h-1z" fill="currentColor"/></svg>Ah</span><span class="n">,</span><span class="k"><svg class="up" width="8" height="16" viewBox="0 0 8 16"><path d="M3 2h4v1h-4zM2 3h2v7h-2zM6 3h2v7h-2zM3 10h4v1h-4zM5 4h1v2h-1zM4 7h1v2h-1z" fill="currentColor"/></svg></span></div><div class="bul" style="top:479px"></div>
<div class="ln" style="top:493px"><span class="ag">.data:<svg class="up" width="8" height="16" viewBox="0 0 8 16"><path d="M3 2h4v1h-4zM2 3h2v7h-2zM6 3h2v7h-2zM3 10h4v1h-4zM5 4h1v2h-1zM4 7h1v2h-1z" fill="currentColor"/></svg><svg class="up" width="8" height="16" viewBox="0 0 8 16"><path d="M3 2h4v1h-4zM2 3h2v7h-2zM6 3h2v7h-2zM3 10h4v1h-4zM5 4h1v2h-1zM4 7h1v2h-1z" fill="currentColor"/></svg>4<svg class="up" width="8" height="16" viewBox="0 0 8 16"><path d="M3 2h4v1h-4zM2 3h2v7h-2zM6 3h2v7h-2zM3 10h4v1h-4zM5 4h1v2h-1zM4 7h1v2h-1z" fill="currentColor"/></svg>73A4</span><span class="n">                                         </span><span class="c"><svg class="up" width="8" height="16" viewBox="0 0 8 16"><path d="M3 4h3v2h-3zM3 9h3v2h-3zM4 11h2v1h-2zM3 12h2v1h-2z" fill="currentColor"/></svg> DATA XREF: <svg class="up" width="8" height="16" viewBox="0 0 8 16"><rect x="0" y="13" width="8" height="2" fill="currentColor"/></svg>main+37<svg class="up" width="8" height="16" viewBox="0 0 8 16"><path d="M3 0h2v1h1v1h1v1h-2v8h-2v-8h-2v-1h1v-1h1z" fill="currentColor" shape-rendering="crispEdges"/></svg>o</span></div>
<div class="ln" style="top:509px"><span class="ag">.data:<svg class="up" width="8" height="16" viewBox="0 0 8 16"><path d="M3 2h4v1h-4zM2 3h2v7h-2zM6 3h2v7h-2zM3 10h4v1h-4zM5 4h1v2h-1zM4 7h1v2h-1z" fill="currentColor"/></svg><svg class="up" width="8" height="16" viewBox="0 0 8 16"><path d="M3 2h4v1h-4zM2 3h2v7h-2zM6 3h2v7h-2zM3 10h4v1h-4zM5 4h1v2h-1zM4 7h1v2h-1z" fill="currentColor"/></svg>4<svg class="up" width="8" height="16" viewBox="0 0 8 16"><path d="M3 2h4v1h-4zM2 3h2v7h-2zM6 3h2v7h-2zM3 10h4v1h-4zM5 4h1v2h-1zM4 7h1v2h-1z" fill="currentColor"/></svg>73C5</span><span class="n">                 align </span><span class="k">4</span></div><div class="bul" style="top:511px"></div>
</div>
<div class="a" style="left:264px;top:108px;width:2px;height:16px;background:#000"></div>
<svg class="a" style="left:463px;top:376px" width="14" height="21" viewBox="0 0 14 21"><path d="M0.5 0.5V16.5L4.3 12.8L7 18.8L9.3 17.8L6.7 11.9H11.9Z" fill="#fff" stroke="#000" stroke-width="1" stroke-linejoin="miter"/></svg>
</body></html>
